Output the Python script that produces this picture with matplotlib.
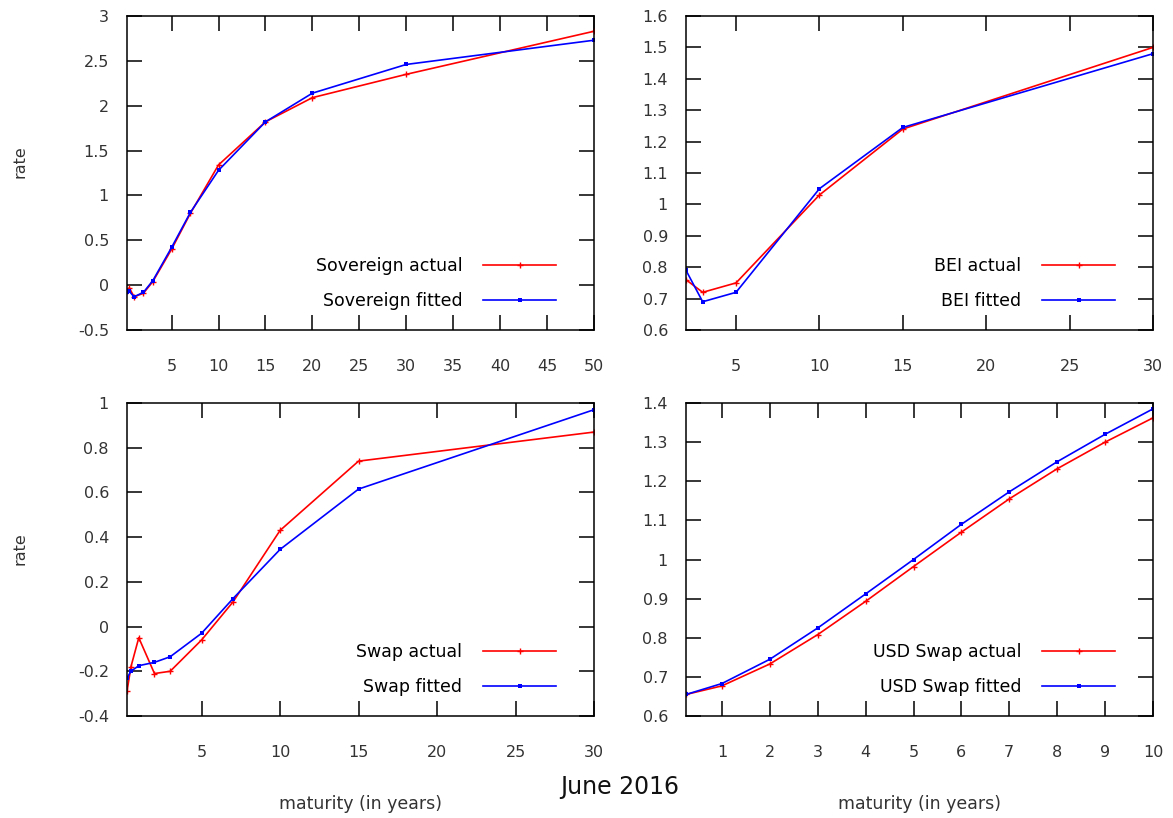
import matplotlib
matplotlib.use("Agg")
import matplotlib.pyplot as plt

# Sovereign curve
sov_x = [0.25, 0.5, 1, 2, 3, 5, 7, 10, 15, 20, 30, 50]
sov_actual = [-0.06, -0.03, -0.13, -0.09, 0.04, 0.40, 0.80, 1.34, 1.82, 2.09, 2.35, 2.83]
sov_fitted = [-0.08, -0.07, -0.13, -0.08, 0.05, 0.42, 0.81, 1.28, 1.82, 2.14, 2.46, 2.73]

# Breakeven inflation
bei_x = [2, 3, 5, 10, 15, 30]
bei_actual = [0.76, 0.72, 0.75, 1.03, 1.24, 1.50]
bei_fitted = [0.79, 0.69, 0.72, 1.05, 1.245, 1.48]

# Swap curve
swap_x = [0.25, 0.5, 1, 2, 3, 5, 7, 10, 15, 30]
swap_actual = [-0.29, -0.18, -0.05, -0.21, -0.20, -0.06, 0.11, 0.43, 0.74, 0.87]
swap_fitted = [-0.23, -0.20, -0.175, -0.16, -0.135, -0.03, 0.125, 0.345, 0.615, 0.97]

# USD swap curve
usd_x = [0.25, 1, 2, 3, 4, 5, 6, 7, 8, 9, 10]
usd_actual = [0.655, 0.677, 0.733, 0.808, 0.893, 0.982, 1.07, 1.155, 1.232, 1.30, 1.362]
usd_fitted = [0.655, 0.683, 0.745, 0.825, 0.912, 1.0, 1.09, 1.173, 1.25, 1.32, 1.385]

panels = [
    ("Sovereign", sov_x, sov_actual, sov_fitted, (0.25, 50), (-0.5, 3),
     [5, 10, 15, 20, 25, 30, 35, 40, 45, 50], [-0.5, 0, 0.5, 1, 1.5, 2, 2.5, 3]),
    ("BEI", bei_x, bei_actual, bei_fitted, (2, 30), (0.6, 1.6),
     [5, 10, 15, 20, 25, 30], [0.6, 0.7, 0.8, 0.9, 1, 1.1, 1.2, 1.3, 1.4, 1.5, 1.6]),
    ("Swap", swap_x, swap_actual, swap_fitted, (0.25, 30), (-0.4, 1),
     [5, 10, 15, 20, 25, 30], [-0.4, -0.2, 0, 0.2, 0.4, 0.6, 0.8, 1]),
    ("USD Swap", usd_x, usd_actual, usd_fitted, (0.25, 10), (0.6, 1.4),
     [1, 2, 3, 4, 5, 6, 7, 8, 9, 10], [0.6, 0.7, 0.8, 0.9, 1, 1.1, 1.2, 1.3, 1.4]),
]

rects = [
    [127 / 1173, 1 - 330 / 818, 467 / 1173, 314 / 818],
    [686 / 1173, 1 - 330 / 818, 467 / 1173, 314 / 818],
    [127 / 1173, 1 - 716 / 818, 467 / 1173, 313 / 818],
    [686 / 1173, 1 - 716 / 818, 467 / 1173, 313 / 818],
]

fig = plt.figure(figsize=(11.73, 8.18), dpi=100)

def fmt(v):
    return ("%g" % v)

for i, (name, x, act, fit, xl, yl, xt, yt) in enumerate(panels):
    ax = fig.add_axes(rects[i])
    ax.plot(x, act, color="#ff0000", lw=1.2, marker="+", ms=4, mew=1,
            label=name + " actual")
    ax.plot(x, fit, color="#0000ff", lw=1.2, marker="s", ms=2.5, mew=0,
            label=name + " fitted")
    ax.set_xlim(*xl)
    ax.set_ylim(*yl)
    ax.set_xticks(xt)
    ax.set_xticklabels([fmt(v) for v in xt])
    ax.set_yticks(yt)
    ax.set_yticklabels([fmt(v) for v in yt])
    ax.tick_params(direction="in", length=11, width=1.1, top=True, right=True,
                   labelsize=11.5, labelcolor="#333333")
    ax.tick_params(axis="x", pad=21)
    ax.tick_params(axis="y", pad=13)
    for s in ax.spines.values():
        s.set_linewidth(1.1)
    ax.legend(loc="lower right", bbox_to_anchor=(0.952, 0.015), frameon=False,
              markerfirst=False, numpoints=1, handlelength=4.2,
              handletextpad=1.2, labelspacing=0.95, fontsize=12.5)
    if i % 2 == 0:
        ax.set_ylabel("rate", fontsize=11.5, color="#333333")
        ax.yaxis.set_label_coords(-0.212, 0.535)
    if i >= 2:
        ax.set_xlabel("maturity (in years)", fontsize=12.5, color="#333333")
        ax.xaxis.set_label_coords(0.5, -0.252)

fig.text(620 / 1173, 1 - 787 / 818, "June 2016", fontsize=17, ha="center",
         va="center", color="#111111")

fig.savefig("out.png", dpi=100)
